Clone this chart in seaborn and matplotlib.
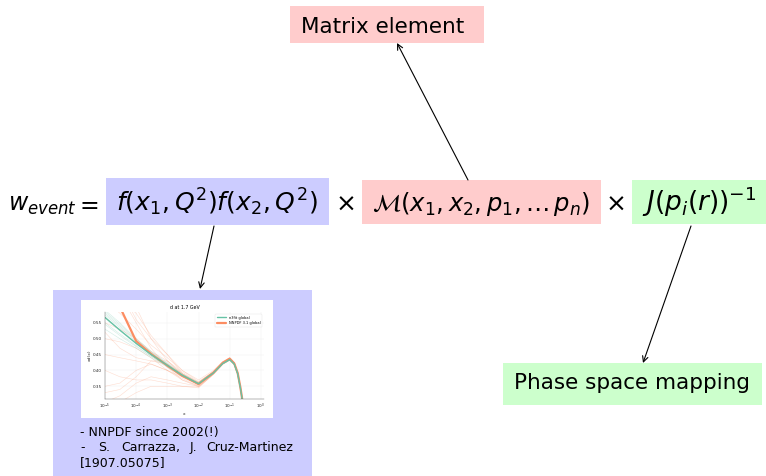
import numpy as np
import pandas as pd
import matplotlib
matplotlib.use('Agg')
import matplotlib.pyplot as plt
from matplotlib.patches import Rectangle
import seaborn as sns

# data (d at 1.7 GeV)
x_vals = [1e-5, 3e-5, 1e-4, 3e-4, 1e-3, 3e-3, 1e-2, 3e-2, 6e-2, 1e-1, 0.14, 0.18, 0.22, 0.27]
n3fit_central = [0.567, 0.527, 0.485, 0.45, 0.416, 0.385, 0.358, 0.392, 0.422, 0.434, 0.42, 0.39, 0.345, 0.29]
nnpdf_central = [0.68, 0.60, 0.492, 0.452, 0.415, 0.383, 0.357, 0.393, 0.424, 0.437, 0.422, 0.392, 0.347, 0.29]

n3fit_replicas = [
    [0.58, 0.54, 0.495, 0.456, 0.42, 0.387, 0.36, 0.393, 0.423, 0.435, 0.421, 0.391, 0.346, 0.29],
    [0.55, 0.515, 0.478, 0.445, 0.412, 0.382, 0.356, 0.39, 0.42, 0.432, 0.418, 0.388, 0.343, 0.288],
    [0.59, 0.55, 0.50, 0.46, 0.424, 0.39, 0.362, 0.395, 0.424, 0.436, 0.422, 0.392, 0.347, 0.291],
    [0.53, 0.50, 0.47, 0.44, 0.41, 0.38, 0.355, 0.39, 0.42, 0.433, 0.419, 0.389, 0.344, 0.289],
    [0.565, 0.525, 0.485, 0.45, 0.416, 0.385, 0.358, 0.391, 0.421, 0.434, 0.42, 0.39, 0.345, 0.29],
    [0.575, 0.535, 0.49, 0.454, 0.418, 0.386, 0.359, 0.392, 0.422, 0.435, 0.42, 0.39, 0.345, 0.29],
    [0.545, 0.51, 0.475, 0.444, 0.413, 0.383, 0.357, 0.39, 0.42, 0.433, 0.419, 0.389, 0.344, 0.289],
    [0.585, 0.545, 0.498, 0.458, 0.421, 0.388, 0.36, 0.394, 0.424, 0.436, 0.421, 0.391, 0.346, 0.29],
]
nnpdf_replicas = [
    [0.75, 0.66, 0.56, 0.50, 0.45, 0.40, 0.365, 0.395, 0.425, 0.438, 0.423, 0.393, 0.348, 0.29],
    [0.40, 0.38, 0.37, 0.37, 0.36, 0.35, 0.345, 0.388, 0.42, 0.433, 0.42, 0.39, 0.345, 0.29],
    [0.62, 0.58, 0.53, 0.48, 0.44, 0.40, 0.37, 0.40, 0.428, 0.44, 0.425, 0.395, 0.35, 0.29],
    [0.30, 0.32, 0.36, 0.38, 0.37, 0.36, 0.35, 0.39, 0.42, 0.432, 0.418, 0.388, 0.343, 0.288],
    [0.90, 0.75, 0.60, 0.50, 0.43, 0.385, 0.355, 0.39, 0.423, 0.436, 0.421, 0.391, 0.346, 0.29],
    [0.50, 0.49, 0.47, 0.44, 0.40, 0.37, 0.352, 0.392, 0.424, 0.437, 0.422, 0.392, 0.347, 0.29],
    [0.55, 0.53, 0.50, 0.46, 0.43, 0.395, 0.362, 0.396, 0.426, 0.439, 0.424, 0.394, 0.349, 0.292],
    [0.35, 0.36, 0.40, 0.42, 0.40, 0.375, 0.35, 0.389, 0.421, 0.435, 0.42, 0.39, 0.344, 0.288],
    [0.45, 0.44, 0.43, 0.42, 0.40, 0.38, 0.36, 0.394, 0.425, 0.438, 0.423, 0.393, 0.348, 0.29],
    [0.70, 0.64, 0.55, 0.47, 0.41, 0.37, 0.348, 0.388, 0.422, 0.436, 0.421, 0.391, 0.346, 0.289],
    [0.33, 0.34, 0.38, 0.43, 0.43, 0.39, 0.358, 0.392, 0.424, 0.437, 0.422, 0.392, 0.347, 0.29],
    [0.60, 0.62, 0.58, 0.51, 0.45, 0.39, 0.354, 0.39, 0.422, 0.435, 0.42, 0.39, 0.345, 0.289],
    [0.52, 0.47, 0.44, 0.43, 0.42, 0.39, 0.363, 0.397, 0.427, 0.44, 0.425, 0.395, 0.35, 0.292],
    [0.28, 0.30, 0.33, 0.35, 0.35, 0.35, 0.348, 0.387, 0.419, 0.432, 0.418, 0.388, 0.343, 0.287],
]
x_ticks = [1e-5, 1e-4, 1e-3, 1e-2, 1e-1, 1e0]
y_ticks = [0.35, 0.40, 0.45, 0.50, 0.55]

GREEN = '#66c2a5'
ORANGE = '#fc8d62'

sns.set_style('white')
plt.rcParams['font.family'] = ['DejaVu Sans']
plt.rcParams['mathtext.fontset'] = 'dejavusans'
plt.rcParams['text.color'] = 'black'

fig = plt.figure(figsize=(7.66, 4.76), dpi=100)
ax = fig.add_axes([0, 0, 1, 1])
ax.set_xlim(0, 766)
ax.set_ylim(476, 0)
ax.axis('off')

# coloured boxes of the slide
ax.add_patch(Rectangle((290, 6), 194, 37, color='#ffcccc', lw=0))
ax.add_patch(Rectangle((106, 178), 223, 47, color='#ccccff', lw=0))
ax.add_patch(Rectangle((362, 180), 239, 44, color='#ffcccc', lw=0))
ax.add_patch(Rectangle((632, 180), 134, 44, color='#ccffcc', lw=0))
ax.add_patch(Rectangle((503, 363), 259, 42, color='#ccffcc', lw=0))
ax.add_patch(Rectangle((53, 290), 259, 186, color='#ccccff', lw=0))
ax.add_patch(Rectangle((81, 300), 192, 118, color='white', lw=0))

ax.text(383, 33, 'Matrix element', fontsize=15.5, ha='center', va='baseline')
ax.text(632, 389, 'Phase space mapping', fontsize=15.5, ha='center', va='baseline')

eq_y = 211
ax.text(8, eq_y, r'$w_{event}$', fontsize=17, ha='left', va='baseline')
ax.text(87, eq_y, r'$=$', fontsize=17, ha='center', va='baseline')
ax.text(217, eq_y, r'$f(x_1,Q^2)f(x_2,Q^2)$', fontsize=18, ha='center', va='baseline')
ax.text(345, eq_y, r'$\times$', fontsize=18, ha='center', va='baseline')
ax.text(481, eq_y, r'$\mathcal{M}(x_1,x_2,p_1,\ldots\,p_n)$', fontsize=17.5, ha='center', va='baseline')
ax.text(615, eq_y, r'$\times$', fontsize=18, ha='center', va='baseline')
ax.text(699, eq_y, r'$J(p_i(r))^{-1}$', fontsize=19, ha='center', va='baseline')

arrow = dict(arrowstyle='->', lw=0.8, color='black', shrinkA=0, shrinkB=0)
ax.annotate('', xy=(397, 43), xytext=(468, 180), arrowprops=arrow)
ax.annotate('', xy=(200, 289), xytext=(214, 226), arrowprops=arrow)
ax.annotate('', xy=(643, 363), xytext=(691, 226), arrowprops=arrow)

ax.text(80, 436, '- NNPDF since 2002(!)', fontsize=9, va='baseline')
for xw, word in [(80, '-'), (98, 'S.'), (121, 'Carrazza,'), (190, 'J.')]:
    ax.text(xw, 451, word, fontsize=9, va='baseline')
ax.text(293, 451, 'Cruz-Martinez', fontsize=9, ha='right', va='baseline')
ax.text(80, 466, '[1907.05075]', fontsize=9, va='baseline')

# small embedded PDF plot
rows = []
for i, rep in enumerate(n3fit_replicas):
    for xv, yv in zip(x_vals, rep):
        rows.append(('n3fit global', 'n%d' % i, xv, yv))
for i, rep in enumerate(nnpdf_replicas):
    for xv, yv in zip(x_vals, rep):
        rows.append(('NNPDF 3.1 global', 'o%d' % i, xv, yv))
reps = pd.DataFrame(rows, columns=['fit', 'rep', 'x', 'xd'])
central = pd.DataFrame({
    'x': x_vals + x_vals,
    'xd': n3fit_central + nnpdf_central,
    'fit': ['n3fit global'] * len(x_vals) + ['NNPDF 3.1 global'] * len(x_vals),
})
palette = {'n3fit global': GREEN, 'NNPDF 3.1 global': ORANGE}

pax = fig.add_axes([105 / 766, 1 - 399 / 476, 159 / 766, 87 / 476])
sns.lineplot(data=reps, x='x', y='xd', hue='fit', units='rep', estimator=None,
             palette=palette, lw=0.4, alpha=0.3, legend=False, ax=pax)
sns.lineplot(data=central[central.fit == 'NNPDF 3.1 global'], x='x', y='xd', color=ORANGE,
             lw=1.6, ax=pax, label='NNPDF 3.1 global')
sns.lineplot(data=central[central.fit == 'n3fit global'], x='x', y='xd', color=GREEN,
             lw=1.0, ax=pax, label='n3fit global')
pax.set_xscale('log')
pax.set_xlim(1e-5, 10 ** 0.1)
pax.set_ylim(0.31, 0.584)
pax.set_xticks(x_ticks)
pax.set_yticks(y_ticks)
pax.minorticks_off()
pax.grid(True, color='#eeeeee', lw=0.3)
pax.tick_params(labelsize=3, length=1, width=0.3, pad=1)
pax.set_xlabel('x', fontsize=3.2, labelpad=1)
pax.set_ylabel('xd(x)', fontsize=3.2, labelpad=1)
pax.set_title('d at 1.7 GeV', fontsize=3.4, pad=2)
for s in ['top', 'right']:
    pax.spines[s].set_visible(False)
for s in ['left', 'bottom']:
    pax.spines[s].set_linewidth(0.3)
    pax.spines[s].set_color('#555555')
h, l = pax.get_legend_handles_labels()
leg = pax.legend(h[::-1], l[::-1], fontsize=2.6, loc='upper right', frameon=True,
                 handlelength=2.5, borderpad=0.5, framealpha=0.8, edgecolor='#dddddd')
leg.get_frame().set_linewidth(0.3)

fig.savefig('out.png', dpi=100)
